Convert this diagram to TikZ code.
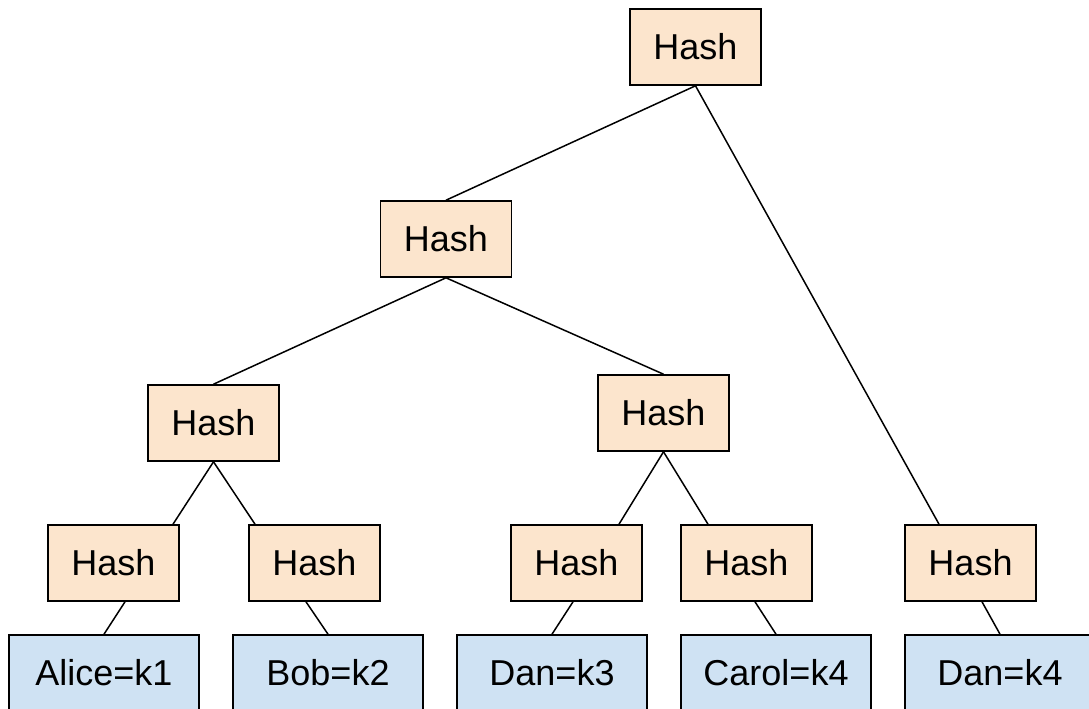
\documentclass[tikz,border=0pt]{standalone}
\usepackage{fontspec}
\setmainfont{Liberation Sans}
\usetikzlibrary{calc}
\definecolor{hashfill}{HTML}{FCE5CD}
\definecolor{leaffill}{HTML}{CFE2F3}
\tikzset{
  box/.style={draw=black, line width=1.6pt, rectangle, inner sep=0pt,
    minimum height=76pt, font=\fontsize{36pt}{40pt}\selectfont},
  hashbox/.style={box, fill=hashfill, minimum width=131pt},
  leafbox/.style={box, fill=leaffill, minimum width=190pt},
  link/.style={draw=black, line width=1.5pt}
}
\begin{document}
\begin{tikzpicture}[x=1pt, y=-1pt]
  \useasboundingbox (0,0) rectangle (1089,709);

  % hash nodes
  \node[hashbox] (R)   at (695.5, 47) {Hash};
  \node[hashbox] (L1)  at (446, 239) {Hash};
  \node[hashbox] (L2a) at (213.5, 423) {Hash};
  \node[hashbox] (L2b) at (663.5, 413) {Hash};
  \node[hashbox] (h1)  at (113.5, 563) {Hash};
  \node[hashbox] (h2)  at (314.5, 563) {Hash};
  \node[hashbox] (h3)  at (576.5, 563) {Hash};
  \node[hashbox] (h4)  at (746.5, 563) {Hash};
  \node[hashbox] (h5)  at (970.5, 563) {Hash};

  % leaf entries
  \node[leafbox] (l1) at (104, 673) {Alice=k1};
  \node[leafbox] (l2) at (328, 673) {Bob=k2};
  \node[leafbox] (l3) at (552, 673) {Dan=k3};
  \node[leafbox] (l4) at (776, 673) {Carol=k4};
  \node[leafbox] (l5) at (1000, 673) {Dan=k4};

  % links between hash levels
  \draw[link] (R.south) -- (L1.north);
  \draw[link] (R.south) -- ($(h5.north)+(-31.5,0)$);
  \draw[link] (L1.south) -- (L2a.north);
  \draw[link] (L1.south) -- (L2b.north);
  \draw[link] (L2a.south) -- ($(h1.north)+(59.5,0)$);
  \draw[link] (L2a.south) -- ($(h2.north)+(-59.5,0)$);
  \draw[link] (L2b.south) -- ($(h3.north)+(42.5,0)$);
  \draw[link] (L2b.south) -- ($(h4.north)+(-38.5,0)$);

  % hash to leaf links
  \draw[link] ($(h1.south)+(11.5,0)$) -- (l1.north);
  \draw[link] ($(h2.south)+(-8.5,0)$) -- (l2.north);
  \draw[link] ($(h3.south)+(-3.5,0)$) -- (l3.north);
  \draw[link] ($(h4.south)+(8.5,0)$) -- (l4.north);
  \draw[link] ($(h5.south)+(11.5,0)$) -- (l5.north);
\end{tikzpicture}
\end{document}
